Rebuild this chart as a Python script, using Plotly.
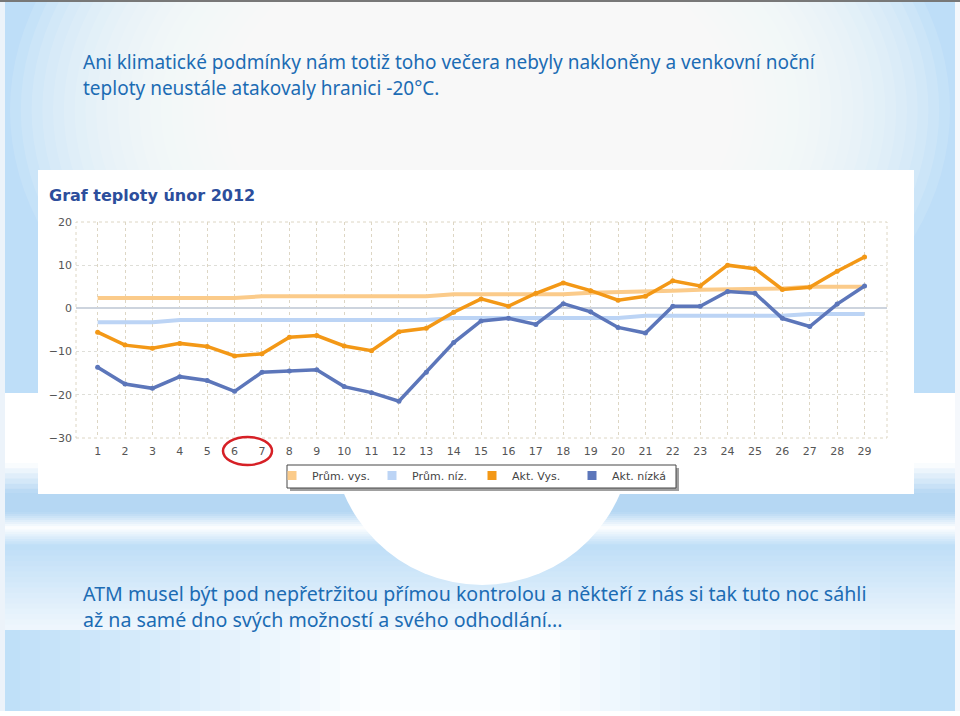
import plotly.graph_objects as go

# ---------------- data ----------------
days = [1, 2, 3, 4, 5, 6, 7, 8, 9, 10, 11, 12, 13, 14, 15, 16, 17, 18, 19, 20,
        21, 22, 23, 24, 25, 26, 27, 28, 29]
prum_vys = [2.4, 2.4, 2.4, 2.4, 2.4, 2.4, 2.8, 2.8, 2.8, 2.8, 2.8, 2.8, 2.8, 3.3,
            3.3, 3.3, 3.3, 3.3, 3.6, 3.7, 3.9, 4.1, 4.3, 4.4, 4.5, 4.6, 5.0, 5.0, 5.0]
prum_niz = [-3.2, -3.2, -3.2, -2.7, -2.7, -2.7, -2.7, -2.7, -2.7, -2.7, -2.7, -2.7,
            -2.7, -2.2, -2.2, -2.2, -2.2, -2.2, -2.2, -2.2, -1.7, -1.7, -1.7, -1.7,
            -1.7, -1.7, -1.3, -1.3, -1.3]
akt_vys = [-5.5, -8.5, -9.2, -8.1, -8.8, -11.0, -10.5, -6.7, -6.3, -8.7, -9.8, -5.4,
           -4.6, -0.9, 2.2, 0.5, 3.5, 5.9, 4.1, 1.9, 2.8, 6.4, 5.2, 10.0, 9.2, 4.4,
           4.9, 8.6, 11.9]
akt_niz = [-13.6, -17.5, -18.5, -15.8, -16.7, -19.2, -14.8, -14.5, -14.2, -18.1,
           -19.5, -21.5, -14.8, -7.9, -2.9, -2.3, -3.7, 1.1, -0.8, -4.4, -5.7, 0.5,
           0.5, 3.9, 3.5, -2.3, -4.2, 1.0, 5.2]
y_ticks = [-30, -20, -10, 0, 10, 20]
series_names = ["Prům. vys.", "Prům. níz.", "Akt. Vys.", "Akt. nízká"]

# ---------------- geometry helpers (styling only) ----------------
W_FIG, H_FIG = 960, 716
L, R, T, B = 76, 73, 222, 278
PW = W_FIG - L - R
PH = H_FIG - T - B


def fx(px):
    return (px - L) / PW


def fy(py):
    return (H_FIG - B - py) / PH


def rect(x0, y0, x1, y1, color, opacity=1.0, layer="below", line=None):
    return dict(type="rect", xref="paper", yref="paper",
                x0=fx(x0), x1=fx(x1), y0=fy(y1), y1=fy(y0),
                fillcolor=color, opacity=opacity,
                line=line if line else dict(width=0), layer=layer)


def mix(c0, c1, t):
    return "rgb(%d,%d,%d)" % tuple(round(a + (b - a) * t) for a, b in zip(c0, c1))


def vgrad(y0, y1, c0, c1, n):
    out = []
    h = (y1 - y0) / n
    for i in range(n):
        t = (i + 0.5) / n
        out.append(rect(0, y0 + i * h, W_FIG, y0 + (i + 1) * h + 1, mix(c0, c1, t)))
    return out


WHITE = (255, 255, 255)
BLUE = (190, 222, 247)
BLUE2 = (181, 215, 243)
LIGHT = (240, 247, 253)

shapes = []
# top region: blue with radial white glow
shapes.append(rect(0, 0, W_FIG, 394, "rgb(190,222,248)"))
cx, cy, rx, ry = 480, 110, 470, 330
NL = 24
for k in range(NL):
    s = 1.0 - k * 0.55 / NL
    shapes.append(dict(type="circle", xref="paper", yref="paper",
                       x0=fx(cx - rx * s), x1=fx(cx + rx * s),
                       y0=fy(cy + ry * s), y1=fy(cy - ry * s),
                       fillcolor="white", opacity=0.12, line=dict(width=0), layer="below"))
# middle band
shapes.append(rect(0, 393, W_FIG, 464, "white"))
shapes += vgrad(463, 494, WHITE, BLUE2, 6)
shapes.append(rect(0, 493, W_FIG, 513, "rgb(181,215,243)"))
shapes += vgrad(512, 528, BLUE2, WHITE, 8)
shapes += vgrad(527, 546, WHITE, BLUE, 8)
shapes += vgrad(545, 630, BLUE, LIGHT, 16)
# white disc under the chart
shapes.append(dict(type="circle", xref="paper", yref="paper",
                   x0=fx(482 - 150), x1=fx(482 + 150), y0=fy(585), y1=fy(285),
                   fillcolor="white", line=dict(width=0), layer="below"))
# bottom region, horizontal gradient
nstrip = 48
sw = W_FIG / nstrip
for i in range(nstrip):
    xc = (i + 0.5) * sw
    d = abs(xc - 450) / 480
    t = min(1.0, max(0.0, (d - 0.18) / 0.75))
    shapes.append(rect(i * sw, 630, (i + 1) * sw + 1, 712,
                       mix((252, 254, 255), (190, 223, 248), t)))
# slide margins
shapes.append(rect(0, 0, 5, H_FIG, "rgb(236,243,250)"))
shapes.append(rect(955, 0, W_FIG, H_FIG, "rgb(245,248,252)"))
shapes.append(rect(0, 711, W_FIG, H_FIG, "white"))
shapes.append(rect(0, 0, W_FIG, 2, "rgb(120,120,120)"))
# white chart box
shapes.append(rect(38, 170, 914, 494, "white"))
# plot border (dotted)
shapes.append(dict(type="rect", xref="paper", yref="paper", x0=0, x1=1, y0=0, y1=1,
                   line=dict(color="rgb(221,214,196)", width=1, dash="dot"),
                   fillcolor="rgba(0,0,0,0)", layer="below"))
# legend frame with shadow
shapes.append(rect(290, 468, 679, 491, "rgb(160,160,160)", layer="above"))
shapes.append(rect(287, 465, 676, 488, "white", layer="above",
                   line=dict(color="rgb(70,70,70)", width=1)))
# red highlight ellipse around days 6 and 7
shapes.append(dict(type="circle", xref="paper", yref="paper",
                   x0=fx(223), x1=fx(272), y0=fy(465), y1=fy(437),
                   line=dict(color="rgb(214,32,38)", width=2.5),
                   fillcolor="rgba(0,0,0,0)", layer="above"))

C_PV = "rgb(251,203,138)"
C_PN = "rgb(188,212,245)"
C_AV = "rgb(243,152,22)"
C_AN = "rgb(92,118,186)"

fig = go.Figure()
fig.add_trace(go.Scatter(x=days, y=prum_vys, mode="lines", line=dict(color=C_PV, width=4),
                         showlegend=False, name=series_names[0]))
fig.add_trace(go.Scatter(x=days, y=prum_niz, mode="lines", line=dict(color=C_PN, width=4),
                         showlegend=False, name=series_names[1]))
fig.add_trace(go.Scatter(x=days, y=akt_vys, mode="lines+markers",
                         line=dict(color=C_AV, width=3.5), marker=dict(size=5, color=C_AV),
                         showlegend=False, name=series_names[2]))
fig.add_trace(go.Scatter(x=days, y=akt_niz, mode="lines+markers",
                         line=dict(color=C_AN, width=3.5), marker=dict(size=5, color=C_AN),
                         showlegend=False, name=series_names[3]))
# legend entries with square swatches
for nm, col in zip(series_names, [C_PV, C_PN, C_AV, C_AN]):
    fig.add_trace(go.Scatter(x=[None], y=[None], mode="markers", name=nm,
                             marker=dict(symbol="square", size=9, color=col)))

TEXT_BLUE = "rgb(28,108,180)"
annotations = []
for txt, ymid, fs in [
    ("Ani klimatické podmínky nám totiž toho večera nebyly nakloněny a venkovní noční", 61.5, 19),
    ("teploty neustále atakovaly hranici -20°C.", 88.2, 19),
    ("ATM musel být pod nepřetržitou přímou kontrolou a někteří z nás si tak tuto noc sáhli", 593.4, 19.6),
    ("až na samé dno svých možností a svého odhodlání...", 619.6, 19.6),
]:
    annotations.append(dict(text=txt, xref="paper", yref="paper", x=fx(81), y=fy(ymid),
                            xanchor="left", yanchor="middle", showarrow=False,
                            font=dict(family="Noto Sans, Liberation Sans, Arial, sans-serif",
                                      size=fs, color=TEXT_BLUE)))

fig.update_layout(
    width=W_FIG, height=H_FIG,
    margin=dict(l=L, r=R, t=T, b=B),
    paper_bgcolor="white",
    plot_bgcolor="rgba(0,0,0,0)",
    shapes=shapes,
    annotations=annotations,
    title=dict(text="Graf teploty únor 2012", xref="container", yref="container",
               x=49 / W_FIG, y=1 - 195 / H_FIG, xanchor="left", yanchor="middle",
               font=dict(family="DejaVu Sans, Verdana, sans-serif", size=16,
                         color="rgb(44,78,156)", weight="bold")),
    xaxis=dict(range=[0.21, 29.82], tickmode="array", tickvals=days,
               ticktext=[str(d) for d in days],
               showgrid=True, gridcolor="rgb(221,214,196)", griddash="dot", gridwidth=1,
               zeroline=False, showline=False, ticks="", ticklabelstandoff=5,
               tickfont=dict(family="DejaVu Sans, Verdana, sans-serif", size=11,
                             color="rgb(85,85,85)"), fixedrange=True),
    yaxis=dict(range=[-30, 20], tickmode="array", tickvals=y_ticks,
               showgrid=True, gridcolor="rgb(222,222,216)", griddash="dot", gridwidth=1,
               zeroline=True, zerolinecolor="rgb(205,212,222)", zerolinewidth=1.5,
               showline=False, ticks="", ticklabelstandoff=3,
               tickfont=dict(family="DejaVu Sans, Verdana, sans-serif", size=11,
                             color="rgb(85,85,85)"), fixedrange=True),
    legend=dict(orientation="h", x=fx(272), xanchor="left", y=fy(461), yanchor="top",
                bgcolor="rgba(0,0,0,0)", borderwidth=0,
                font=dict(family="DejaVu Sans, Verdana, sans-serif", size=11,
                          color="rgb(68,68,68)"),
                itemwidth=30, entrywidth=55, entrywidthmode="pixels",
                traceorder="normal"),
    showlegend=True,
)

fig.write_html("out.html", config={"displayModeBar": False},
               post_script="document.body.style.margin='0px';"
                           "document.body.style.overflow='hidden';")
